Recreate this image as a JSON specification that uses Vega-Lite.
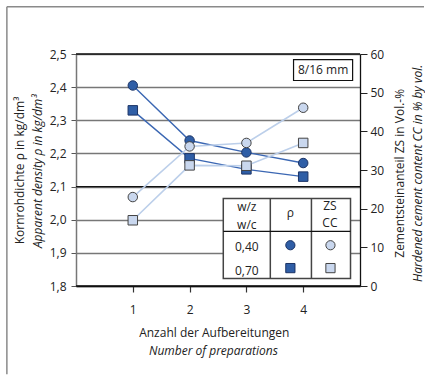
{
  "$schema": "https://vega.github.io/schema/vega-lite/v6.json",
  "width": 284,
  "height": 232,
  "padding": {"left": 6, "top": 6, "right": 0, "bottom": 0},
  "config": {
    "view": {"stroke": null},
    "font": "Open Sans",
    "axis": {"labelFont": "Open Sans", "labelFontSize": 12, "labelColor": "#222"}
  },
  "datasets": {
    "series": [
      {"n": 1, "wc": "0,40", "rho": 2.405, "cc": 23.0},
      {"n": 2, "wc": "0,40", "rho": 2.239, "cc": 36.1},
      {"n": 3, "wc": "0,40", "rho": 2.203, "cc": 37.0},
      {"n": 4, "wc": "0,40", "rho": 2.171, "cc": 46.1},
      {"n": 1, "wc": "0,70", "rho": 2.330, "cc": 17.0},
      {"n": 2, "wc": "0,70", "rho": 2.185, "cc": 31.2},
      {"n": 3, "wc": "0,70", "rho": 2.152, "cc": 31.1},
      {"n": 4, "wc": "0,70", "rho": 2.130, "cc": 37.0}
    ]
  },
  "layer": [
    {
      "data": {"values": [{}]},
      "mark": {"type": "rule", "stroke": "#111", "strokeWidth": 1.3},
      "encoding": {
        "x": {"datum": 0, "type": "quantitative", "scale": {"domain": [0, 5], "nice": false, "zero": false}, "axis": {"values": [1, 2, 3, 4], "title": null, "grid": false, "domainColor": "#111", "domainWidth": 1.5, "tickColor": "#333", "tickSize": 6, "tickWidth": 1.2, "labelPadding": 12}},
        "x2": {"datum": 5},
        "y": {"datum": 2.1, "type": "quantitative", "scale": {"domain": [1.8, 2.5], "nice": false, "zero": false},
          "axis": {"orient": "left", "values": [1.8, 1.9, 2.0, 2.1, 2.2, 2.3, 2.4, 2.5], "title": null, "grid": true,
            "labelExpr": "replace(format(datum.value, '.1f'), '.', ',')",
            "gridColor": "#777", "gridWidth": 1.3, "domainColor": "#777", "domainWidth": 1.5, "tickColor": "#555", "tickSize": 5, "labelPadding": 5}}
      }
    },
    {
      "data": {"values": [{}]},
      "mark": {"type": "rule", "stroke": "#111", "strokeWidth": 1.3},
      "encoding": {
        "x": {"datum": 0, "type": "quantitative", "axis": {"values": [1, 2, 3, 4], "title": null, "grid": false, "domainColor": "#111", "domainWidth": 1.5, "tickColor": "#333", "tickSize": 6, "tickWidth": 1.2, "labelPadding": 12}},
        "x2": {"datum": 5},
        "y": {"datum": 2.5, "type": "quantitative", "scale": {"domain": [1.8, 2.5], "nice": false, "zero": false}, "axis": null}
      }
    },
    {
      "data": {"values": [{}]},
      "mark": {"type": "rule", "stroke": "#111", "strokeWidth": 1.5},
      "encoding": {
        "x": {"datum": 0, "type": "quantitative", "axis": {"values": [1, 2, 3, 4], "title": null, "grid": false, "domainColor": "#111", "domainWidth": 1.5, "tickColor": "#333", "tickSize": 6, "tickWidth": 1.2, "labelPadding": 12}},
        "x2": {"datum": 5},
        "y": {"datum": 1.8, "type": "quantitative", "scale": {"domain": [1.8, 2.5], "nice": false, "zero": false}, "axis": null}
      }
    },
    {
      "data": {"name": "series"},
      "mark": {"type": "line", "color": "#3b67b3", "strokeWidth": 1.4},
      "encoding": {
        "x": {"field": "n", "type": "quantitative", "axis": {"values": [1, 2, 3, 4], "title": null, "grid": false, "domainColor": "#111", "domainWidth": 1.5, "tickColor": "#333", "tickSize": 6, "tickWidth": 1.2, "labelPadding": 12}},
        "y": {"field": "rho", "type": "quantitative", "scale": {"domain": [1.8, 2.5], "nice": false, "zero": false}, "axis": null},
        "detail": {"field": "wc"}
      }
    },
    {
      "data": {"name": "series"},
      "mark": {"type": "line", "color": "#bccfea", "strokeWidth": 1.6},
      "encoding": {
        "x": {"field": "n", "type": "quantitative", "axis": {"values": [1, 2, 3, 4], "title": null, "grid": false, "domainColor": "#111", "domainWidth": 1.5, "tickColor": "#333", "tickSize": 6, "tickWidth": 1.2, "labelPadding": 12}},
        "y": {"field": "cc", "type": "quantitative", "scale": {"domain": [0, 60], "nice": false},
          "axis": {"orient": "right", "values": [0, 10, 20, 30, 40, 50, 60], "title": null, "grid": false, "domainColor": "#111", "domainWidth": 1.3, "tickColor": "#222", "tickSize": 7, "labelPadding": 3}},
        "detail": {"field": "wc"}
      }
    },
    {
      "data": {"values": [{}]},
      "mark": {"type": "rule", "stroke": "#8a8a8a", "strokeWidth": 1.5},
      "encoding": {
        "x": {"datum": -1.217, "type": "quantitative", "axis": {"values": [1, 2, 3, 4], "title": null, "grid": false, "domainColor": "#111", "domainWidth": 1.5, "tickColor": "#333", "tickSize": 6, "tickWidth": 1.2, "labelPadding": 12}},
        "y": {"datum": 2.6425, "type": "quantitative", "scale": {"domain": [1.8, 2.5], "nice": false, "zero": false}, "axis": null},
        "y2": {"datum": 1.5335}
      }
    },
    {
      "data": {"values": [{}]},
      "mark": {"type": "rule", "stroke": "#8a8a8a", "strokeWidth": 1.5},
      "encoding": {
        "x": {"datum": -1.217, "type": "quantitative", "axis": {"values": [1, 2, 3, 4], "title": null, "grid": false, "domainColor": "#111", "domainWidth": 1.5, "tickColor": "#333", "tickSize": 6, "tickWidth": 1.2, "labelPadding": 12}},
        "x2": {"datum": 6.127},
        "y": {"datum": 2.6425, "type": "quantitative", "scale": {"domain": [1.8, 2.5], "nice": false, "zero": false}, "axis": null}
      }
    },
    {
      "data": {"name": "series"},
      "mark": {"type": "point", "filled": true, "size": 90, "fill": "#2f5ea6", "stroke": "#1c3466", "strokeWidth": 1, "opacity": 1},
      "encoding": {
        "x": {"field": "n", "type": "quantitative", "axis": {"values": [1, 2, 3, 4], "title": null, "grid": false, "domainColor": "#111", "domainWidth": 1.5, "tickColor": "#333", "tickSize": 6, "tickWidth": 1.2, "labelPadding": 12}},
        "y": {"field": "rho", "type": "quantitative", "scale": {"domain": [1.8, 2.5], "nice": false, "zero": false}, "axis": null},
        "shape": {"field": "wc", "type": "nominal", "scale": {"domain": ["0,40", "0,70"], "range": ["circle", "square"]}, "legend": null}
      }
    },
    {
      "data": {"name": "series"},
      "mark": {"type": "point", "filled": true, "size": 90, "fill": "#c9d7ee", "stroke": "#444", "strokeWidth": 1, "opacity": 1},
      "encoding": {
        "x": {"field": "n", "type": "quantitative", "axis": {"values": [1, 2, 3, 4], "title": null, "grid": false, "domainColor": "#111", "domainWidth": 1.5, "tickColor": "#333", "tickSize": 6, "tickWidth": 1.2, "labelPadding": 12}},
        "y": {"field": "cc", "type": "quantitative", "scale": {"domain": [0, 60], "nice": false}, "axis": null},
        "shape": {"field": "wc", "type": "nominal", "scale": {"domain": ["0,40", "0,70"], "range": ["circle", "square"]}, "legend": null}
      }
    },
    {
      "data": {"values": [{}]},
      "mark": {"type": "rect", "fill": "white", "stroke": "#111", "strokeWidth": 1.2},
      "encoding": {
        "x": {"datum": 3.83, "type": "quantitative", "axis": {"values": [1, 2, 3, 4], "title": null, "grid": false, "domainColor": "#111", "domainWidth": 1.5, "tickColor": "#333", "tickSize": 6, "tickWidth": 1.2, "labelPadding": 12}},
        "x2": {"datum": 4.87},
        "y": {"datum": 2.483, "type": "quantitative", "scale": {"domain": [1.8, 2.5], "nice": false, "zero": false}, "axis": null},
        "y2": {"datum": 2.42}
      }
    },
    {
      "data": {"values": [{}]},
      "mark": {"type": "rect", "fill": "white", "stroke": "#444", "strokeWidth": 1.5},
      "encoding": {
        "x": {"datum": 2.593, "type": "quantitative", "axis": {"values": [1, 2, 3, 4], "title": null, "grid": false, "domainColor": "#111", "domainWidth": 1.5, "tickColor": "#333", "tickSize": 6, "tickWidth": 1.2, "labelPadding": 12}},
        "x2": {"datum": 4.833},
        "y": {"datum": 2.0642, "type": "quantitative", "scale": {"domain": [1.8, 2.5], "nice": false, "zero": false}, "axis": null},
        "y2": {"datum": 1.823}
      }
    },
    {
      "data": {"values": [{}]},
      "mark": {"type": "rule", "stroke": "#444", "strokeWidth": 1.5},
      "encoding": {
        "x": {"datum": 3.421, "type": "quantitative", "axis": {"values": [1, 2, 3, 4], "title": null, "grid": false, "domainColor": "#111", "domainWidth": 1.5, "tickColor": "#333", "tickSize": 6, "tickWidth": 1.2, "labelPadding": 12}},
        "y": {"datum": 2.0642, "type": "quantitative", "scale": {"domain": [1.8, 2.5], "nice": false, "zero": false}, "axis": null},
        "y2": {"datum": 1.823}
      }
    },
    {
      "data": {"values": [{}]},
      "mark": {"type": "rule", "stroke": "#444", "strokeWidth": 1.5},
      "encoding": {
        "x": {"datum": 4.145, "type": "quantitative", "axis": {"values": [1, 2, 3, 4], "title": null, "grid": false, "domainColor": "#111", "domainWidth": 1.5, "tickColor": "#333", "tickSize": 6, "tickWidth": 1.2, "labelPadding": 12}},
        "y": {"datum": 2.0642, "type": "quantitative", "scale": {"domain": [1.8, 2.5], "nice": false, "zero": false}, "axis": null},
        "y2": {"datum": 1.823}
      }
    },
    {
      "data": {"values": [{}]},
      "mark": {"type": "rule", "stroke": "#111", "strokeWidth": 1.3},
      "encoding": {
        "x": {"datum": 2.593, "type": "quantitative", "axis": {"values": [1, 2, 3, 4], "title": null, "grid": false, "domainColor": "#111", "domainWidth": 1.5, "tickColor": "#333", "tickSize": 6, "tickWidth": 1.2, "labelPadding": 12}},
        "x2": {"datum": 4.833},
        "y": {"datum": 1.9648, "type": "quantitative", "scale": {"domain": [1.8, 2.5], "nice": false, "zero": false}, "axis": null}
      }
    },
    {
      "data": {"values": [{}]},
      "mark": {"type": "point", "shape": "circle", "filled": true, "size": 85, "fill": "#2f5ea6", "stroke": "#1c3466", "strokeWidth": 1, "opacity": 1},
      "encoding": {"x": {"datum": 3.774, "type": "quantitative", "axis": {"values": [1, 2, 3, 4], "title": null, "grid": false, "domainColor": "#111", "domainWidth": 1.5, "tickColor": "#333", "tickSize": 6, "tickWidth": 1.2, "labelPadding": 12}}, "y": {"datum": 1.923, "type": "quantitative", "scale": {"domain": [1.8, 2.5], "nice": false, "zero": false}, "axis": null}}
    },
    {
      "data": {"values": [{}]},
      "mark": {"type": "point", "shape": "square", "filled": true, "size": 85, "fill": "#2f5ea6", "stroke": "#1c3466", "strokeWidth": 1, "opacity": 1},
      "encoding": {"x": {"datum": 3.774, "type": "quantitative", "axis": {"values": [1, 2, 3, 4], "title": null, "grid": false, "domainColor": "#111", "domainWidth": 1.5, "tickColor": "#333", "tickSize": 6, "tickWidth": 1.2, "labelPadding": 12}}, "y": {"datum": 1.854, "type": "quantitative", "scale": {"domain": [1.8, 2.5], "nice": false, "zero": false}, "axis": null}}
    },
    {
      "data": {"values": [{}]},
      "mark": {"type": "point", "shape": "circle", "filled": true, "size": 85, "fill": "#c9d7ee", "stroke": "#444", "strokeWidth": 1, "opacity": 1},
      "encoding": {"x": {"datum": 4.48, "type": "quantitative", "axis": {"values": [1, 2, 3, 4], "title": null, "grid": false, "domainColor": "#111", "domainWidth": 1.5, "tickColor": "#333", "tickSize": 6, "tickWidth": 1.2, "labelPadding": 12}}, "y": {"datum": 1.923, "type": "quantitative", "scale": {"domain": [1.8, 2.5], "nice": false, "zero": false}, "axis": null}}
    },
    {
      "data": {"values": [{}]},
      "mark": {"type": "point", "shape": "square", "filled": true, "size": 85, "fill": "#c9d7ee", "stroke": "#444", "strokeWidth": 1, "opacity": 1},
      "encoding": {"x": {"datum": 4.48, "type": "quantitative", "axis": {"values": [1, 2, 3, 4], "title": null, "grid": false, "domainColor": "#111", "domainWidth": 1.5, "tickColor": "#333", "tickSize": 6, "tickWidth": 1.2, "labelPadding": 12}}, "y": {"datum": 1.854, "type": "quantitative", "scale": {"domain": [1.8, 2.5], "nice": false, "zero": false}, "axis": null}}
    },
    {
      "data": {"values": [
        {"label": "8/16 mm", "px": 4.35, "py": 2.4515},
        {"label": "w/z", "px": 3.007, "py": 2.037},
        {"label": "w/c", "px": 3.007, "py": 1.985},
        {"label": "ρ", "px": 3.774, "py": 2.02},
        {"label": "ZS", "px": 4.47, "py": 2.04},
        {"label": "CC", "px": 4.47, "py": 1.989},
        {"label": "0,40", "px": 3.007, "py": 1.917},
        {"label": "0,70", "px": 3.007, "py": 1.846},
        {"label": "Anzahl der Aufbereitungen", "px": 2.434, "py": 1.6575}
      ]},
      "mark": {"type": "text", "fontSize": 12, "baseline": "middle", "align": "center", "color": "#222", "font": "Open Sans"},
      "encoding": {
        "x": {"field": "px", "type": "quantitative", "axis": {"values": [1, 2, 3, 4], "title": null, "grid": false, "domainColor": "#111", "domainWidth": 1.5, "tickColor": "#333", "tickSize": 6, "tickWidth": 1.2, "labelPadding": 12}},
        "y": {"field": "py", "type": "quantitative", "scale": {"domain": [1.8, 2.5], "nice": false, "zero": false}, "axis": null},
        "text": {"field": "label"}
      }
    },
    {
      "data": {"values": [
        {"label": "Number of preparations", "px": 2.42, "py": 1.604}
      ]},
      "mark": {"type": "text", "fontSize": 12, "fontStyle": "italic", "baseline": "middle", "align": "center", "color": "#222", "font": "Open Sans"},
      "encoding": {
        "x": {"field": "px", "type": "quantitative", "axis": {"values": [1, 2, 3, 4], "title": null, "grid": false, "domainColor": "#111", "domainWidth": 1.5, "tickColor": "#333", "tickSize": 6, "tickWidth": 1.2, "labelPadding": 12}},
        "y": {"field": "py", "type": "quantitative", "scale": {"domain": [1.8, 2.5], "nice": false, "zero": false}, "axis": null},
        "text": {"field": "label"}
      }
    },
    {
      "data": {"values": [
        {"label": "Kornrohdichte ρ  in kg/dm³", "px": -0.988, "py": 2.1485},
        {"label": "Zementsteinanteil ZS in Vol.-%", "px": 5.697, "py": 2.14}
      ]},
      "mark": {"type": "text", "fontSize": 12, "angle": 270, "baseline": "middle", "align": "center", "color": "#222", "font": "Open Sans"},
      "encoding": {
        "x": {"field": "px", "type": "quantitative", "axis": {"values": [1, 2, 3, 4], "title": null, "grid": false, "domainColor": "#111", "domainWidth": 1.5, "tickColor": "#333", "tickSize": 6, "tickWidth": 1.2, "labelPadding": 12}},
        "y": {"field": "py", "type": "quantitative", "scale": {"domain": [1.8, 2.5], "nice": false, "zero": false}, "axis": null},
        "text": {"field": "label"}
      }
    },
    {
      "data": {"values": [
        {"label": "Apparent density ρ  in kg/dm³", "px": -0.67, "py": 2.146},
        {"label": "Hardened cement content CC in % by vol.", "px": 6.014, "py": 2.14}
      ]},
      "mark": {"type": "text", "fontSize": 12, "fontStyle": "italic", "angle": 270, "baseline": "middle", "align": "center", "color": "#222", "font": "Open Sans"},
      "encoding": {
        "x": {"field": "px", "type": "quantitative", "axis": {"values": [1, 2, 3, 4], "title": null, "grid": false, "domainColor": "#111", "domainWidth": 1.5, "tickColor": "#333", "tickSize": 6, "tickWidth": 1.2, "labelPadding": 12}},
        "y": {"field": "py", "type": "quantitative", "scale": {"domain": [1.8, 2.5], "nice": false, "zero": false}, "axis": null},
        "text": {"field": "label"}
      }
    }
  ],
  "resolve": {"scale": {"y": "independent"}}
}
